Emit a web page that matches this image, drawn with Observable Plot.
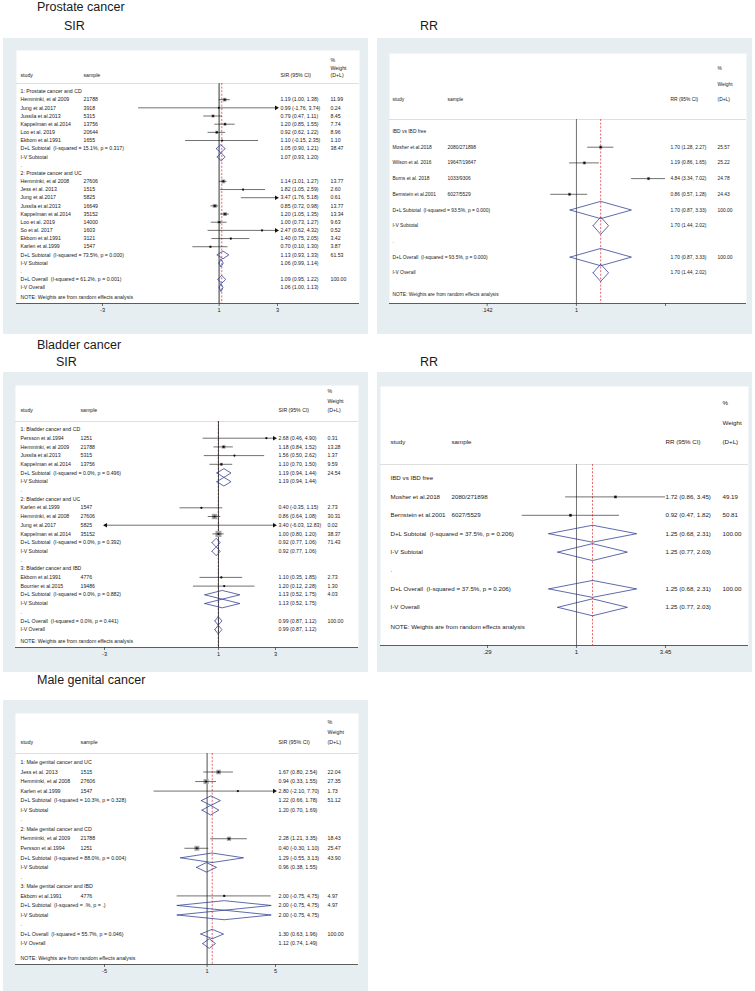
<!DOCTYPE html>
<html><head><meta charset="utf-8">
<script src="https://cdn.jsdelivr.net/npm/d3@7"></script>
<script src="https://cdn.jsdelivr.net/npm/@observablehq/plot@0.6"></script>
<style>
body{margin:0;background:#fff;}
#page{position:relative;width:755px;height:991px;overflow:hidden;font-family:"Liberation Sans",Arial,Helvetica,sans-serif;}
.title{position:absolute;font-size:12.5px;color:#1a1a1a;white-space:nowrap;line-height:1;}
.panel{position:absolute;}
svg text{white-space:pre;}
</style></head><body><div id="page"></div>
<script>
// ---------- Prostate cancer, SIR ----------
const psirKind = ["g","s","s","s","s","s","s","d","d","b","g","s","s","s","s","s","s","s","s","s","d","d","b","d","d"];
const psirLabel = ["1: Prostate cancer and CD","Hemminki, et al 2009","Jung et al.2017","Jussila et al.2013","Kappelman et al.2014","Loo et al. 2019","Ekbom et al.1991","D+L Subtotal  (I-squared = 15.1%, p = 0.317)","I-V Subtotal",".","2: Prostate cancer and UC","Hemminki, et al 2008","Jess et al. 2013","Jung et al.2017","Jussila et al.2013","Kappelman et al.2014","Loo et al. 2019","So et al. 2017","Ekbom et al.1991","Karlen et al.1999","D+L Subtotal  (I-squared = 73.5%, p = 0.000)","I-V Subtotal",".","D+L Overall  (I-squared = 61.2%, p = 0.001)","I-V Overall"];
const psirSample = ["","21788","3918","5315","13756","20644","1655","","","","","27606","1515","5825","16649","35152","14000","1603","3121","1547","","","","",""];
const psirEst = [null,1.19,0.99,0.79,1.20,0.92,1.10,1.05,1.07,null,null,1.14,1.82,3.47,0.85,1.20,1.00,2.47,1.40,0.70,1.13,1.06,null,1.09,1.06];
const psirLo = [null,1.00,-1.76,0.47,0.85,0.62,-0.15,0.90,0.93,null,null,1.01,1.05,1.76,0.72,1.05,0.73,0.62,0.75,0.10,0.93,0.99,null,0.95,1.00];
const psirHi = [null,1.38,3.74,1.11,1.55,1.22,2.35,1.21,1.20,null,null,1.27,2.59,5.18,0.98,1.35,1.27,4.32,2.05,1.30,1.33,1.14,null,1.22,1.13];
const psirWeight = [null,11.99,0.24,8.45,7.74,8.96,1.10,38.47,null,null,null,13.77,2.60,0.61,13.77,13.34,9.63,0.52,3.42,3.87,61.53,null,null,100.00,null];
const psirTicks = [-3,1,3];
const psirTickLabels = ["-3","1","3"];

// ---------- Prostate cancer, RR ----------
const prrKind = ["g","s","s","s","s","d","d","b","d","d"];
const prrLabel = ["IBD vs IBD free","Mosher et al.2018","Wilson et al. 2016","Burns et al. 2018","Bernstein et al.2001","D+L Subtotal  (I-squared = 93.5%, p = 0.000)","I-V Subtotal",".","D+L Overall  (I-squared = 93.5%, p = 0.000)","I-V Overall"];
const prrSample = ["","2080/271898","19647/19647","1033/9306","6027/5529","","","","",""];
const prrEst = [null,1.70,1.19,4.84,0.86,1.70,1.70,null,1.70,1.70];
const prrLo = [null,1.28,0.86,3.34,0.57,0.87,1.44,null,0.87,1.44];
const prrHi = [null,2.27,1.65,7.02,1.28,3.33,2.02,null,3.33,2.02];
const prrWeight = [null,25.57,25.22,24.78,24.43,100.00,null,null,100.00,null];
const prrTicks = [0.142,1,7.02];
const prrTickLabels = [".142","1","7.02"];

// ---------- Bladder cancer, SIR ----------
const bsirKind = ["g","s","s","s","s","d","d","b","g","s","s","s","s","d","d","b","g","s","s","d","d","b","d","d"];
const bsirLabel = ["1: Bladder cancer and CD","Persson et al.1994","Hemminki, et al 2009","Jussila et al.2013","Kappelman et al.2014","D+L Subtotal  (I-squared = 0.0%, p = 0.496)","I-V Subtotal",".","2: Bladder cancer and UC","Karlen et al.1999","Hemminki, et al 2008","Jung et al.2017","Kappelman et al.2014","D+L Subtotal  (I-squared = 0.0%, p = 0.392)","I-V Subtotal",".","3: Bladder cancer and IBD","Ekbom et al.1991","Bourrier et al.2015","D+L Subtotal  (I-squared = 0.0%, p = 0.882)","I-V Subtotal",".","D+L Overall  (I-squared = 0.0%, p = 0.441)","I-V Overall"];
const bsirSample = ["","1251","21788","5315","13756","","","","","1547","27606","5825","35152","","","","","4776","19486","","","","",""];
const bsirEst = [null,2.68,1.18,1.56,1.10,1.19,1.19,null,null,0.40,0.86,3.40,1.00,0.92,0.92,null,null,1.10,1.20,1.13,1.13,null,0.99,0.99];
const bsirLo = [null,0.46,0.84,0.50,0.70,0.94,0.94,null,null,-0.35,0.64,-6.03,0.80,0.77,0.77,null,null,0.35,0.12,0.52,0.52,null,0.87,0.87];
const bsirHi = [null,4.90,1.52,2.62,1.50,1.44,1.44,null,null,1.15,1.08,12.83,1.20,1.06,1.06,null,null,1.85,2.28,1.75,1.75,null,1.12,1.12];
const bsirWeight = [null,0.31,13.28,1.37,9.59,24.54,null,null,null,2.73,30.31,0.02,38.37,71.43,null,null,null,2.73,1.30,4.03,null,null,100.00,null];
const bsirTicks = [-3,1,3];
const bsirTickLabels = ["-3","1","3"];

// ---------- Bladder cancer, RR ----------
const brrKind = ["g","s","s","d","d","b","d","d"];
const brrLabel = ["IBD vs IBD free","Mosher et al.2018","Bernstein et al.2001","D+L Subtotal  (I-squared = 37.5%, p = 0.206)","I-V Subtotal",".","D+L Overall  (I-squared = 37.5%, p = 0.206)","I-V Overall"];
const brrSample = ["","2080/271898","6027/5529","","","","",""];
const brrEst = [null,1.72,0.92,1.25,1.25,null,1.25,1.25];
const brrLo = [null,0.86,0.47,0.68,0.77,null,0.68,0.77];
const brrHi = [null,3.45,1.82,2.31,2.03,null,2.31,2.03];
const brrWeight = [null,49.19,50.81,100.00,null,null,100.00,null];
const brrTicks = [0.29,1,3.45];
const brrTickLabels = [".29","1","3.45"];

// ---------- Male genital cancer, SIR ----------
const mgKind = ["g","s","s","s","d","d","b","g","s","s","d","d","b","g","s","d","d","b","d","d"];
const mgLabel = ["1: Male genital cancer and UC","Jess et al. 2013","Hemminki, et al 2008","Karlen et al.1999","D+L Subtotal  (I-squared = 10.3%, p = 0.328)","I-V Subtotal",".","2: Male genital cancer and CD","Hemminki, et al 2009","Persson et al.1994","D+L Subtotal  (I-squared = 88.0%, p = 0.004)","I-V Subtotal",".","3: Male genital cancer and IBD","Ekbom et al.1991","D+L Subtotal  (I-squared = .%, p = .)","I-V Subtotal",".","D+L Overall  (I-squared = 55.7%, p = 0.046)","I-V Overall"];
const mgSample = ["","1515","27606","1547","","","","","21788","1251","","","","","4776","","","","",""];
const mgEst = [null,1.67,0.94,2.80,1.22,1.20,null,null,2.28,0.40,1.29,0.96,null,null,2.00,2.00,2.00,null,1.30,1.12];
const mgLo = [null,0.80,0.33,-2.10,0.66,0.70,null,null,1.21,-0.30,-0.55,0.38,null,null,-0.75,-0.75,-0.75,null,0.63,0.74];
const mgHi = [null,2.54,1.55,7.70,1.78,1.69,null,null,3.35,1.10,3.13,1.55,null,null,4.75,4.75,4.75,null,1.96,1.49];
const mgWeight = [null,22.04,27.35,1.73,51.12,null,null,null,18.43,25.47,43.90,null,null,null,4.97,4.97,null,null,100.00,null];
const mgTicks = [-5,1,5];
const mgTickLabels = ["-5","1","5"];

// header texts
const sirHeader = ["study","sample","SIR (95% CI)"];
const rrHeader = ["study","sample","RR (95% CI)"];
const weightHeader = ["%","Weight","(D+L)"];
const noteText = "NOTE: Weights are from random effects analysis";

// ---------- layout (page pixel positions, styles) ----------
const BG = "#e7eef2";
const FONT = '"Liberation Sans", Arial, Helvetica, sans-serif';
const NAVY = "#2b3a8f";
const LAYOUT = {
  psir: {left:3, top:38, right:368, bottom:334, wl:16, wr:359, wt:50, axis:303, row0:91, step:8.17, sep:83, hPct:60, hWeight:67.5, hStudy:75, note:297,
         cStudy:20, cSample:83, cCI:280, cW:330, xr:[102,277], fs:5.2, tickFs:5.6, dh:0.48, boxK:0.6, dotR:1.1, nullColor:"#8a8a8a", nullWidth:1.8},
  prr:  {left:377, top:38, right:752, bottom:334, wl:389, wr:746, wt:53, axis:303, row0:131, step:15.7, sep:119, hPct:68, hWeight:84, hStudy:99, note:294,
         cStudy:392, cSample:447, cCI:670, cW:717, xr:[486.7,665], fs:4.9, tickFs:5.4, dh:0.55, boxK:0.35, dotR:1.1, nullColor:"#333", nullWidth:0.7},
  bsir: {left:3, top:372, right:368, bottom:672, wl:15, wr:358, wt:385, axis:647, row0:429, step:8.7, sep:421, hPct:391, hWeight:401, hStudy:410, note:641,
         cStudy:20, cSample:80, cCI:278, cW:327, xr:[104,275], fs:5.2, tickFs:5.6, dh:0.5, boxK:0.55, dotR:1.1, nullColor:"#222", nullWidth:0.8},
  brr:  {left:377, top:372, right:752, bottom:672, wl:380, wr:748, wt:386, axis:645, row0:478, step:18.4, sep:464, hPct:403, hWeight:423, hStudy:442, note:627,
         cStudy:390, cSample:451, cCI:665, cW:722, xr:[487,665], fs:6.2, tickFs:6, dh:0.46, boxK:0.25, dotR:1.2, nullColor:"#333", nullWidth:0.7},
  male: {left:3, top:700, right:368, bottom:991, wl:15, wr:358, wt:713, axis:964, row0:762, step:9.53, sep:753, hPct:722, hWeight:732, hStudy:742, note:958,
         cStudy:20, cSample:80, cCI:278, cW:327, xr:[104,275], fs:5.3, tickFs:5.6, dh:0.5, boxK:0.55, dotR:1.1, nullColor:"#222", nullWidth:0.8}
};

function fmt(v){ return v.toFixed(2); }

function forest(L, D, header) {
  const n = D.label.length;
  const rows = d3.range(n).map(i => ({i, kind:D.kind[i], label:D.label[i], sample:D.sample[i], est:D.est[i], lo:D.lo[i], hi:D.hi[i], w:D.weight[i]}));
  const toRow = px => (px - L.row0) / L.step;
  const [dmin, dmax] = D.domain;
  const studies = rows.filter(r => r.kind === "s");
  const inside = studies.filter(r => r.est >= dmin && r.est <= dmax);
  const rightArr = studies.filter(r => r.hi > dmax);
  const leftArr = studies.filter(r => r.lo < dmin);
  const dia = rows.filter(r => r.kind === "d");
  const diaPts = dia.flatMap(r => [[r.lo,0],[r.est,-1],[r.hi,0],[r.est,1],[r.lo,0]].map(([x,s]) => ({x, y: r.i + s*L.dh, z: r.i})));
  const overall = rows.find(r => r.label.startsWith("D+L Overall")).est;
  const ySep = toRow(L.sep), yBot = toRow(L.axis), yTop = toRow(L.wt);
  const W = L.right - L.left, H = L.bottom - L.top;
  const base = {frameAnchor:"left", fontSize:L.fs, fill:"#1a1a1a"};
  const at = (s, ypx, xpx) => Plot.text([s], {...base, y:[toRow(ypx)], text:d => d, dx: xpx - L.wl});
  const withEst = rows.filter(r => r.est != null);
  const withW = rows.filter(r => r.w != null);
  return Plot.plot({
    width: W, height: H,
    marginLeft: L.wl - L.left, marginRight: L.right - L.wr, marginTop: L.wt - L.top, marginBottom: L.bottom - L.axis,
    x: {type: D.xtype, domain: D.domain, range: [L.xr[0] - L.left, L.xr[1] - L.left], clamp: true},
    y: {domain: [yTop, yBot], range: [L.wt - L.top, L.axis - L.top], axis: null},
    r: {type: "sqrt", domain: [0, 100], range: [0, L.boxK * 10]},
    style: {background: BG, fontFamily: FONT, overflow: "visible"},
    marks: [
      Plot.frame({fill: "white", stroke: "none"}),
      Plot.ruleY([ySep], {stroke: "#c9c9c9", strokeWidth: 0.6}),
      Plot.ruleX([overall], {y1: ySep, y2: yBot, stroke: "#d8262b", strokeWidth: 0.7, strokeDasharray: "2,1.6"}),
      Plot.ruleX([1], {y1: ySep, y2: yBot, stroke: L.nullColor, strokeWidth: L.nullWidth}),
      Plot.dot(inside, {x: "est", y: "i", r: "w", symbol: "square", fill: "#a3a3a3", stroke: "none"}),
      Plot.ruleY(studies, {y: "i", x1: "lo", x2: "hi", stroke: "#111", strokeWidth: 0.6}),
      Plot.dot(inside, {x: "est", y: "i", r: L.dotR, fill: "#111", stroke: "none"}),
      Plot.dot(rightArr, {x: "hi", y: "i", symbol: "triangle", rotate: 90, r: 1.7, dx: -1.2, fill: "#111", stroke: "none"}),
      Plot.dot(leftArr, {x: "lo", y: "i", symbol: "triangle", rotate: -90, r: 1.7, dx: 1.2, fill: "#111", stroke: "none"}),
      Plot.line(diaPts, {x: "x", y: "y", z: "z", stroke: NAVY, strokeWidth: 0.75, curve: "linear"}),
      Plot.text(rows, {...base, y: "i", text: "label", dx: L.cStudy - L.wl}),
      Plot.text(rows, {...base, y: "i", text: "sample", dx: L.cSample - L.wl}),
      Plot.text(withEst, {...base, y: "i", text: r => `${fmt(r.est)} (${fmt(r.lo)}, ${fmt(r.hi)})`, dx: L.cCI - L.wl}),
      Plot.text(withW, {...base, y: "i", text: r => fmt(r.w), dx: L.cW - L.wl}),
      at(header[0], L.hStudy, L.cStudy),
      at(header[1], L.hStudy, L.cSample),
      at(header[2], L.hStudy, L.cCI),
      at(weightHeader[0], L.hPct, L.cW),
      at(weightHeader[1], L.hWeight, L.cW),
      at(weightHeader[2], L.hStudy, L.cW),
      at(noteText, L.note, L.cStudy),
      Plot.ruleY([yBot], {stroke: "#333", strokeWidth: 0.8}),
      Plot.axisX({ticks: D.ticks, tickFormat: d => D.tickLabels[D.ticks.indexOf(d)], anchor: "bottom", tickSize: 3, tickPadding: 1.5,
                  fontSize: L.tickFs, stroke: "#333", strokeWidth: 0.7, fill: "#1a1a1a", label: null})
    ]
  });
}

const page = document.getElementById("page");
function addTitle(text, left, top){
  const d = document.createElement("div");
  d.className = "title"; d.textContent = text;
  d.style.left = left + "px"; d.style.top = top + "px";
  page.appendChild(d);
}
function addPanel(L, D, header){
  const svg = forest(L, D, header);
  const wrap = document.createElement("div");
  wrap.className = "panel";
  wrap.style.left = L.left + "px"; wrap.style.top = L.top + "px";
  wrap.appendChild(svg);
  page.appendChild(wrap);
}

addTitle("Prostate cancer", 37, 0.5);
addTitle("SIR", 64, 19.5);
addTitle("RR", 420, 19.5);
addTitle("Bladder cancer", 37, 338.5);
addTitle("SIR", 56, 356);
addTitle("RR", 420, 356);
addTitle("Male genital cancer", 37, 673.5);

addPanel(LAYOUT.psir, {kind:psirKind, label:psirLabel, sample:psirSample, est:psirEst, lo:psirLo, hi:psirHi, weight:psirWeight,
  xtype:"linear", domain:[-3,3], ticks:psirTicks, tickLabels:psirTickLabels}, sirHeader);
addPanel(LAYOUT.prr, {kind:prrKind, label:prrLabel, sample:prrSample, est:prrEst, lo:prrLo, hi:prrHi, weight:prrWeight,
  xtype:"log", domain:[0.142,7.02], ticks:prrTicks, tickLabels:prrTickLabels}, rrHeader);
addPanel(LAYOUT.bsir, {kind:bsirKind, label:bsirLabel, sample:bsirSample, est:bsirEst, lo:bsirLo, hi:bsirHi, weight:bsirWeight,
  xtype:"linear", domain:[-3,3], ticks:bsirTicks, tickLabels:bsirTickLabels}, sirHeader);
addPanel(LAYOUT.brr, {kind:brrKind, label:brrLabel, sample:brrSample, est:brrEst, lo:brrLo, hi:brrHi, weight:brrWeight,
  xtype:"log", domain:[0.29,3.45], ticks:brrTicks, tickLabels:brrTickLabels}, rrHeader);
addPanel(LAYOUT.male, {kind:mgKind, label:mgLabel, sample:mgSample, est:mgEst, lo:mgLo, hi:mgHi, weight:mgWeight,
  xtype:"linear", domain:[-5,5], ticks:mgTicks, tickLabels:mgTickLabels}, sirHeader);
</script></body></html>
